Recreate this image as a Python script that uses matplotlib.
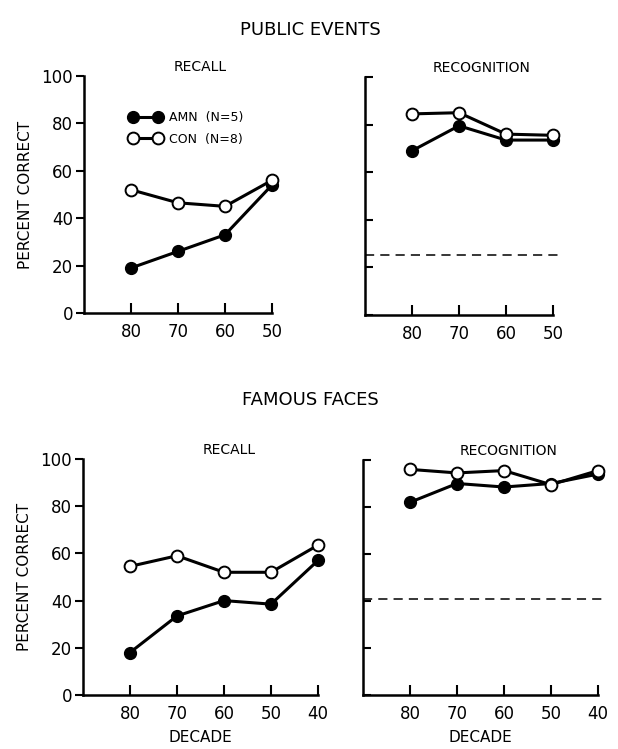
import matplotlib.pyplot as plt

plt.rcParams['font.family'] = ['DejaVu Sans']

# data (percent correct)
pe_decades = ["80", "70", "60", "50"]
pe_recall_amn = [19, 26, 33, 54]
pe_recall_con = [52, 46.5, 45, 56]
pe_recog_amn = [69, 79.5, 73.5, 73.5]
pe_recog_con = [84.5, 85, 76, 75.5]
pe_chance = 25

ff_decades = ["80", "70", "60", "50", "40"]
ff_recall_amn = [18, 33.5, 40, 38.5, 57]
ff_recall_con = [54.5, 59, 52, 52, 63.5]
ff_recog_amn = [82, 90, 88.5, 90, 94]
ff_recog_con = [96, 94.5, 95.5, 89.5, 95.5]
ff_chance = 41

W, H = 618, 749
fig = plt.figure(figsize=(W / 100, H / 100), dpi=100)


def make_axes(left, right, bottom, top):
    return fig.add_axes([left / W, 1 - bottom / H, (right - left) / W, (bottom - top) / H])


def draw_panel(ax, decades, amn, con, title, left_side, chance=None, xlabel=None, legend=False):
    xs = list(range(1, len(decades) + 1))
    if chance is not None:
        ax.axhline(chance, color='black', lw=1.1, dashes=(6, 4), xmax=1.03, clip_on=False)
    ax.plot(xs, amn, '-o', color='black', lw=2.2, ms=8.5, mfc='black', mec='black', zorder=3,
            clip_on=False, label='AMN  (N=5)')
    ax.plot(xs, con, '-o', color='black', lw=2.2, ms=8.5, mfc='white', mec='black', mew=1.4,
            zorder=4, clip_on=False, label='CON  (N=8)')
    ax.set_xlim(0, len(decades))
    ax.set_ylim(0, 100)
    ax.set_xticks(xs)
    ax.set_xticklabels(decades, fontsize=12)
    ax.set_yticks([0, 20, 40, 60, 80, 100])
    for s in ['top', 'right']:
        ax.spines[s].set_visible(False)
    for s in ['left', 'bottom']:
        ax.spines[s].set_linewidth(1.8)
    ax.tick_params(axis='x', direction='in', length=7, width=1.5, pad=7)
    if left_side:
        ax.tick_params(axis='y', direction='out', length=6, width=1.5, labelsize=12, pad=2)
        ax.set_ylabel('PERCENT CORRECT', fontsize=11, labelpad=6)
    else:
        ax.tick_params(axis='y', direction='in', length=6, width=1.5, labelleft=False)
    ax.text(0.62, 1.01, title, transform=ax.transAxes, ha='center', va='bottom', fontsize=10)
    if xlabel:
        ax.set_xlabel(xlabel, fontsize=11, labelpad=5)
    if legend:
        ax.legend(loc='upper left', bbox_to_anchor=(0.18, 0.9), frameon=False, fontsize=9,
                  handlelength=2.6, handletextpad=0.6, labelspacing=0.7, numpoints=2)


ax1 = make_axes(84, 272, 313, 76)
draw_panel(ax1, pe_decades, pe_recall_amn, pe_recall_con, 'RECALL', True, legend=True)
ax2 = make_axes(365, 553, 315, 77)
draw_panel(ax2, pe_decades, pe_recog_amn, pe_recog_con, 'RECOGNITION', False, chance=pe_chance)
ax3 = make_axes(83, 318, 695, 459)
draw_panel(ax3, ff_decades, ff_recall_amn, ff_recall_con, 'RECALL', True, xlabel='DECADE')
ax4 = make_axes(363, 598, 695, 460)
draw_panel(ax4, ff_decades, ff_recog_amn, ff_recog_con, 'RECOGNITION', False,
           chance=ff_chance, xlabel='DECADE')

fig.text(310 / W, 1 - 30 / H, 'PUBLIC EVENTS', ha='center', va='center', fontsize=13)
fig.text(310 / W, 1 - 400 / H, 'FAMOUS FACES', ha='center', va='center', fontsize=13)

fig.savefig('out.png', dpi=100)
